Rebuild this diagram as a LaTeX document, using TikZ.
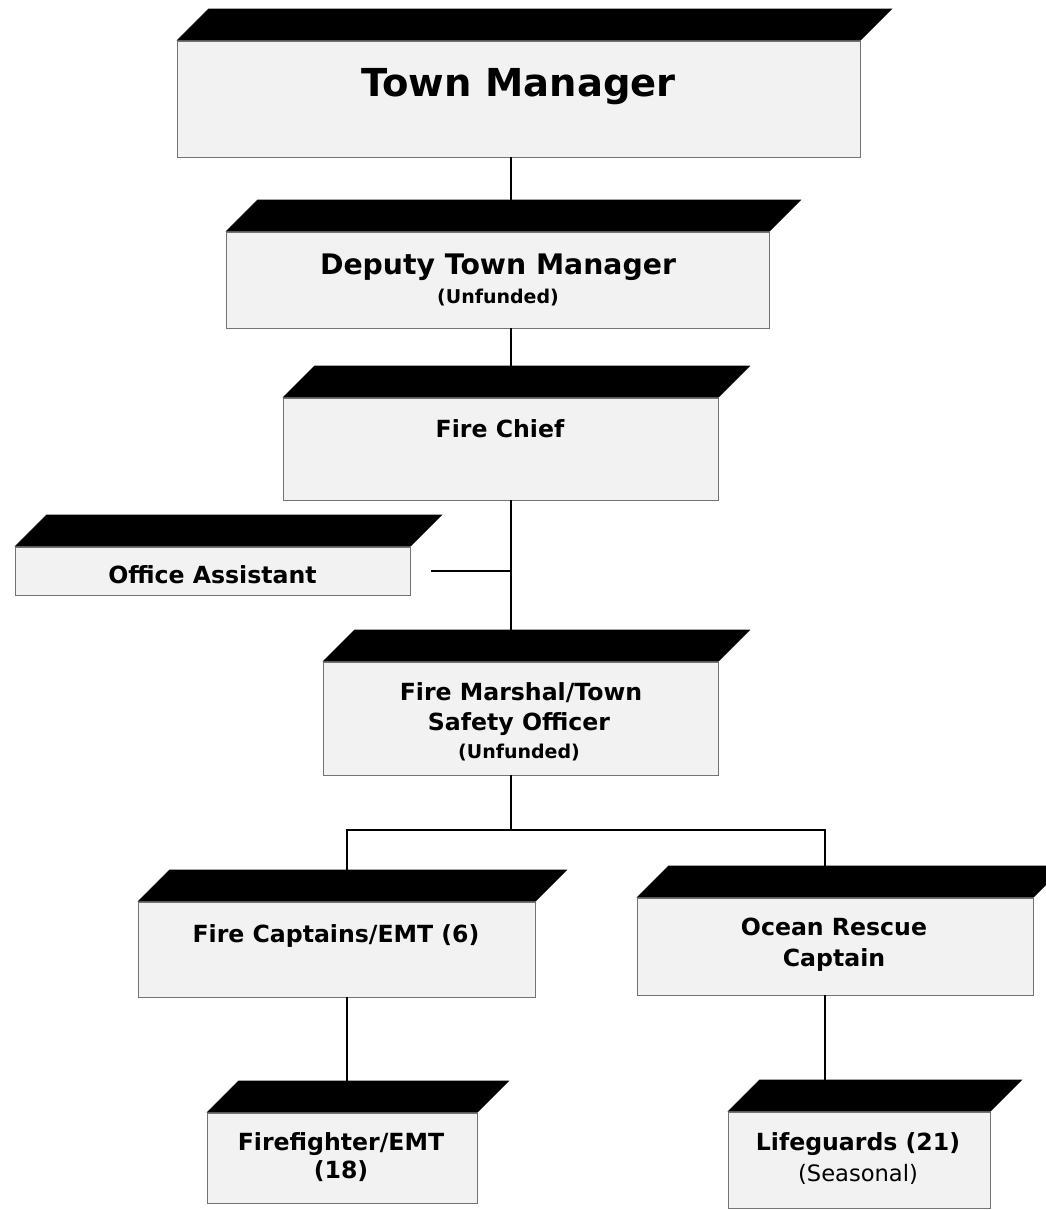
\documentclass[tikz,border=0pt]{standalone}
\usepackage{fontspec}
\setmainfont{DejaVu Sans}
\begin{document}
\begin{tikzpicture}[x=1pt,y=-1pt,
  orgbox/.style={rectangle, draw=black!55, line width=0.9pt, fill=black!5, inner sep=0pt},
  conn/.style={draw=black, line width=1.8pt},
  lbl/.style={anchor=base, inner sep=0pt, font=\bfseries\fontsize{23.6}{28}\selectfont},
  sublbl/.style={anchor=base, inner sep=0pt, font=\bfseries\fontsize{19}{22}\selectfont},
  reglbl/.style={anchor=base, inner sep=0pt, font=\fontsize{22.6}{26}\selectfont}]
\newcommand\boxtop[1]{%
  \fill[black] (#1.north west) -- ++(32,-32) -- ([shift={(32,-32)}]#1.north east) -- (#1.north east) -- cycle;
  \coordinate (#1-top) at ([yshift=32pt]#1.north);}
\fill[white] (0,0) rectangle (1046,1210);
\useasboundingbox (0,0) rectangle (1046,1210);

% boxes (front faces)
\node[orgbox, minimum width=683pt, minimum height=116pt] (tm) at (518.5,99) {};
\boxtop{tm}
\node[orgbox, minimum width=543pt, minimum height=96pt] (dtm) at (497.5,280) {};
\boxtop{dtm}
\node[orgbox, minimum width=435pt, minimum height=102pt] (fc) at (500.5,449) {};
\boxtop{fc}
\node[orgbox, minimum width=395pt, minimum height=48pt] (oa) at (212.5,571) {};
\boxtop{oa}
\node[orgbox, minimum width=395pt, minimum height=113pt] (fm) at (520.5,718.5) {};
\boxtop{fm}
\node[orgbox, minimum width=397pt, minimum height=95pt] (fcap) at (336.5,949.5) {};
\boxtop{fcap}
\node[orgbox, minimum width=396pt, minimum height=97pt] (or) at (835,946.5) {};
\boxtop{or}
\node[orgbox, minimum width=270pt, minimum height=90pt] (ff) at (342,1158) {};
\boxtop{ff}
\node[orgbox, minimum width=262pt, minimum height=96pt] (lg) at (859,1160) {};
\boxtop{lg}

% texts
\node[anchor=base, inner sep=0pt, font=\bfseries\fontsize{38.5}{44}\selectfont] (tm-l) at (518.5,96) {Town Manager};
\node[anchor=base, inner sep=0pt, font=\bfseries\fontsize{28.3}{32}\selectfont] (dtm-l1) at (498,274) {Deputy Town Manager};
\node[sublbl] (dtm-l2) at (498,303) {(Unfunded)};
\node[lbl] (fc-l) at (500,437) {Fire Chief};
\node[lbl] (oa-l) at (212.5,583) {Office Assistant};
\node[lbl] (fm-l1) at (521,700) {Fire Marshal/Town};
\node[lbl] (fm-l2) at (519,730) {Safety Officer};
\node[sublbl] (fm-l3) at (519,758) {(Unfunded)};
\node[lbl] (fcap-l) at (336,942) {Fire Captains/EMT (6)};
\node[lbl] (or-l1) at (834,935) {Ocean Rescue};
\node[lbl] (or-l2) at (834,966) {Captain};
\node[lbl] (ff-l1) at (341,1150) {Firefighter/EMT};
\node[lbl] (ff-l2) at (341,1178) {(18)};
\node[lbl] (lg-l1) at (858,1150) {Lifeguards (21)};
\node[reglbl] (lg-l2) at (858,1181) {(Seasonal)};

% connector guides
\coordinate (spine) at (511,0);
\coordinate (cap) at (347,0);
\coordinate (ocean) at (825,0);
\coordinate (branch) at (0,830);

% connectors
\draw[conn] (tm.south -| spine) -- (dtm-top -| spine);
\draw[conn] (dtm.south -| spine) -- (fc-top -| spine);
\draw[conn] (fc.south -| spine) -- (fm-top -| spine);
\draw[conn] ([xshift=21pt]oa.east) -- (oa.east -| spine);
\draw[conn] (fm.south -| spine) -- (branch -| spine);
\draw[conn] ([xshift=-1pt]branch -| cap) -- ([xshift=1pt]branch -| ocean);
\draw[conn] (branch -| cap) -- (fcap-top -| cap);
\draw[conn] (branch -| ocean) -- (or-top -| ocean);
\draw[conn] (fcap.south -| cap) -- (ff-top -| cap);
\draw[conn] (or.south -| ocean) -- (lg-top -| ocean);
\end{tikzpicture}
\end{document}
